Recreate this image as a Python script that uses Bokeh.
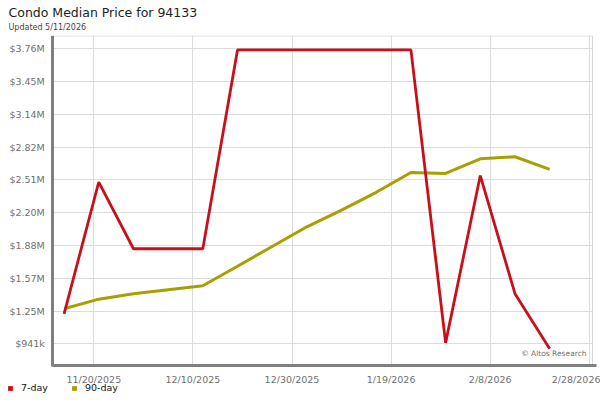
from datetime import datetime
import numpy as np
from bokeh.plotting import figure
from bokeh.models import (Range1d, FixedTicker, Title, Legend, LegendItem, Label)
from bokeh.embed import file_html
from bokeh.resources import INLINE

# ---------------- data ----------------
dates = ["2025-11-14", "2025-11-21", "2025-11-28", "2025-12-05", "2025-12-12",
         "2025-12-19", "2025-12-26", "2026-01-02", "2026-01-09", "2026-01-16",
         "2026-01-23", "2026-01-30", "2026-02-06", "2026-02-13", "2026-02-20"]
day7 = [1228000, 2487000, 1850000, 1850000, 1850000,
        3752000, 3752000, 3752000, 3752000, 3752000,
        3752000, 950000, 2550000, 1420000, 893000]
day90 = [1276000, 1368000, 1420000, 1458000, 1496000,
         1683000, 1872000, 2060000, 2220000, 2390000,
         2580000, 2570000, 2710000, 2730000, 2610000]

x_tick_dates = ["2025-11-20", "2025-12-10", "2025-12-30", "2026-01-19", "2026-02-08", "2026-02-28"]
x_tick_labels = ["11/20/2025", "12/10/2025", "12/30/2025", "1/19/2026", "2/8/2026", "2/28/2026"]
y_ticks = [941000, 1254500, 1568000, 1881500, 2195000, 2508500, 2822000, 3135500, 3449000, 3762500]
y_tick_labels = ["$941k", "$1.25M", "$1.57M", "$1.88M", "$2.20M", "$2.51M", "$2.82M",
                 "$3.14M", "$3.45M", "$3.76M"]
series_names = ["7-day", "90-day"]

title_text = "Condo Median Price for 94133"
subtitle_text = "Updated 5/11/2026"
credit_text = "\u00a9 Altos Research"

RED = "#c8101a"
OLIVE = "#a89f00"
FONT = "DejaVu Sans"

# ---------------- scales (milliseconds) ----------------
DAY = 86400000.0

def ms(d):
    return (datetime.strptime(d, "%Y-%m-%d") - datetime(1970, 1, 1)).total_seconds() * 1000

xs = [ms(d) for d in dates]
ref_day = ms("2025-11-20")
last_day = ms("2026-02-28")
x_start = ref_day - 18.83 * DAY       # left edge of canvas
y_axis_x = ref_day - 8.27 * DAY       # where the value axis sits
x_border = last_day + 0.65 * DAY      # right frame border
x_axis_end = last_day + 1.45 * DAY    # end of the date axis line
x_end = last_day + 2.26 * DAY         # right edge of canvas
y_start, y_end = 398600, 3889700
x_axis_y = 733000                     # where the date axis sits
px_y = 4780                           # ~half a pixel in y

p = figure(width=600, height=400, x_axis_type="datetime",
           x_range=Range1d(x_start, x_end), y_range=Range1d(y_start, y_end),
           output_backend="svg", toolbar_location=None,
           min_border_left=0, min_border_right=0, min_border_top=35, min_border_bottom=0)
p.title.visible = False
p.background_fill_color = "white"
p.border_fill_color = "white"
p.outline_line_color = None

x_tick_ms = [ms(d) for d in x_tick_dates]
p.xaxis.ticker = FixedTicker(ticks=x_tick_ms)
p.xaxis.major_label_overrides = {t: l for t, l in zip(x_tick_ms, x_tick_labels)}
p.yaxis.ticker = FixedTicker(ticks=y_ticks)
p.yaxis.major_label_overrides = {t: l for t, l in zip(y_ticks, y_tick_labels)}

for ax in (p.xaxis[0], p.yaxis[0]):
    ax.axis_label = None
    ax.axis_line_color = "#808080"
    ax.axis_line_width = 3
    ax.major_tick_line_color = None
    ax.minor_tick_line_color = None
    ax.major_tick_out = 0
    ax.major_tick_in = 0
    ax.minor_tick_out = 0
    ax.minor_tick_in = 0
    ax.major_label_text_font = FONT
    ax.major_label_text_font_size = "9.5px"
    ax.major_label_text_color = "#707070"
p.xaxis.major_label_standoff = 8
p.yaxis.major_label_standoff = 8
p.xaxis.fixed_location = x_axis_y
p.yaxis.fixed_location = y_axis_x
p.xaxis.bounds = (y_axis_x, x_axis_end)
p.yaxis.bounds = (x_axis_y - 2 * px_y, y_end)

p.xgrid.grid_line_color = "#dcdcdc"
p.ygrid.grid_line_color = "#dcdcdc"

# white masks so the grid stops at the axes
p.quad(left=[x_start], right=[y_axis_x], bottom=[y_start], top=[y_end],
       fill_color="white", line_color=None)
p.quad(left=[x_start], right=[x_end], bottom=[y_start], top=[x_axis_y],
       fill_color="white", line_color=None)
p.quad(left=[x_border], right=[x_end], bottom=[y_start], top=[y_end],
       fill_color="white", line_color=None)
# top and right frame borders
p.segment(x0=[y_axis_x, x_border], y0=[y_end - px_y, x_axis_y],
          x1=[x_border, x_border], y1=[y_end - px_y, y_end],
          line_color="#d8d8d8", line_width=1)

r90 = p.line(xs, day90, line_color=OLIVE, line_width=3)
r7 = p.line(xs, day7, line_color=RED, line_width=2.8)

# legend swatches (no data drawn)
nan = np.array([np.nan])
q7 = p.quad(left=nan, right=nan, bottom=nan, top=nan, fill_color=RED, line_color=None)
q90 = p.quad(left=nan, right=nan, bottom=nan, top=nan, fill_color=OLIVE, line_color=None)

legend = Legend(items=[LegendItem(label=series_names[0], renderers=[q7]),
                       LegendItem(label=series_names[1], renderers=[q90])],
                orientation="horizontal", location=(7, 7),
                label_text_font=FONT, label_text_font_size="9.5px", label_text_color="#111111",
                glyph_width=6, glyph_height=6, label_standoff=8, spacing=23,
                padding=0, margin=0, border_line_color=None, background_fill_alpha=0,
                label_height=6)
p.add_layout(legend, "center")

credit = Label(x=x_border, y=x_axis_y, x_offset=-6, y_offset=8, text=credit_text,
               text_align="right", text_baseline="bottom", text_font=FONT,
               text_font_size="7.5px", text_color="#707070")
p.add_layout(credit)

p.add_layout(Title(text=subtitle_text, align="left", offset=8, standoff=8,
                   text_font=FONT, text_font_size="8px", text_font_style="normal",
                   text_color="#444444"), "above")
p.add_layout(Title(text=title_text, align="left", offset=8, standoff=-6,
                   text_font=FONT, text_font_size="12.5px", text_font_style="normal",
                   text_color="#222222"), "above")

open("out.html", "w").write(file_html(p, INLINE))
